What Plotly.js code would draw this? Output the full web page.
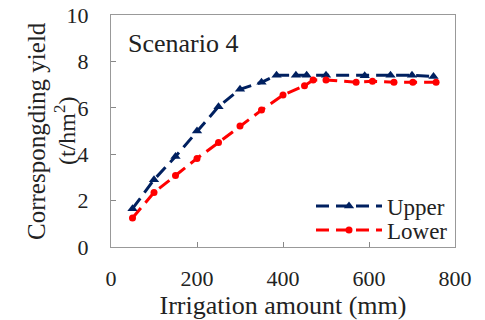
<!DOCTYPE html>
<html>
<head>
<meta charset="utf-8">
<script src="https://cdn.plot.ly/plotly-3.0.1.min.js"></script>
<style>html,body{margin:0;padding:0;background:#fff;}#chart{width:485px;height:320px;}</style>
</head>
<body>
<div id="chart"></div>
<script>
const upperX = [50, 100, 150, 200, 250, 300, 350, 385, 430, 455, 500, 590, 650, 700, 750];
const upperY = [1.65, 2.9, 3.9, 5.0, 6.05, 6.8, 7.1, 7.4, 7.4, 7.4, 7.4, 7.38, 7.4, 7.4, 7.35];
const lowerX = [50, 100, 150, 200, 250, 300, 350, 400, 450, 470, 500, 570, 608, 658, 702, 756];
const lowerY = [1.25, 2.35, 3.08, 3.82, 4.5, 5.22, 5.9, 6.55, 6.95, 7.2, 7.2, 7.1, 7.14, 7.1, 7.1, 7.1];
const xTicks = [0, 200, 400, 600, 800];
const yTicks = [0, 2, 4, 6, 8, 10];

const serif = "Liberation Serif";
const ink = '#222';
const px = v => (v - 111) / 344;
const py = v => (247 - v) / 232;
const traces = [
  {x: upperX, y: upperY, name: 'Upper', type: 'scatter', mode: 'lines+markers', legend: 'legend',
   line: {color: '#002060', width: 3, dash: '13px,7px'},
   marker: {symbol: 'triangle-up', size: 9, color: '#002060'}},
  {x: lowerX, y: lowerY, name: 'Lower', type: 'scatter', mode: 'lines+markers', legend: 'legend2',
   line: {color: '#FF0000', width: 3, dash: '13px,7px'},
   marker: {symbol: 'circle', size: 7, color: '#FF0000'}}
];
const legendBase = {xanchor: 'left', yanchor: 'middle', bgcolor: 'rgba(0,0,0,0)',
                    font: {family: serif, size: 23, color: ink}, itemwidth: 66};
const layout = {
  width: 485, height: 320,
  margin: {l: 111, r: 30, t: 15, b: 73},
  paper_bgcolor: '#fff', plot_bgcolor: '#fff',
  font: {family: serif, color: ink, size: 22},
  showlegend: true,
  legend: Object.assign({}, legendBase, {x: px(311), y: py(206)}),
  legend2: Object.assign({}, legendBase, {x: px(311), y: py(230)}),
  xaxis: {range: [0, 800], tickvals: xTicks, ticktext: xTicks.map(String),
          ticks: 'inside', ticklen: 5, tickcolor: '#888', showgrid: false, zeroline: false,
          showline: true, linecolor: '#999', linewidth: 1, mirror: true,
          tickfont: {family: serif, size: 22, color: ink}, ticklabelstandoff: 12,
          title: {text: 'Irrigation amount (mm)', font: {family: serif, size: 26, color: ink}, standoff: 5}},
  yaxis: {range: [0, 10], tickvals: yTicks, ticktext: yTicks.map(String),
          ticks: 'inside', ticklen: 5, tickcolor: '#888', showgrid: false, zeroline: false,
          showline: true, linecolor: '#999', linewidth: 1, mirror: true,
          tickfont: {family: serif, size: 22, color: ink}, ticklabelstandoff: 17},
  annotations: [
    {xref: 'paper', yref: 'paper', x: px(126), y: py(43), xanchor: 'left', yanchor: 'middle',
     text: 'Scenario 4', showarrow: false, font: {family: serif, size: 26, color: ink}},
    {xref: 'paper', yref: 'paper', x: px(36), y: 0.5, xanchor: 'center', yanchor: 'middle',
     textangle: -90, text: 'Correspongding yield', showarrow: false, font: {family: serif, size: 25, color: ink}},
    {xref: 'paper', yref: 'paper', x: px(65), y: 0.5, xanchor: 'center', yanchor: 'middle',
     textangle: -90, text: '(t/hm<sup>2</sup>)', showarrow: false, font: {family: serif, size: 24, color: ink}}
  ]
};
Plotly.newPlot('chart', traces, layout, {displayModeBar: false, staticPlot: true});
</script>
</body>
</html>
